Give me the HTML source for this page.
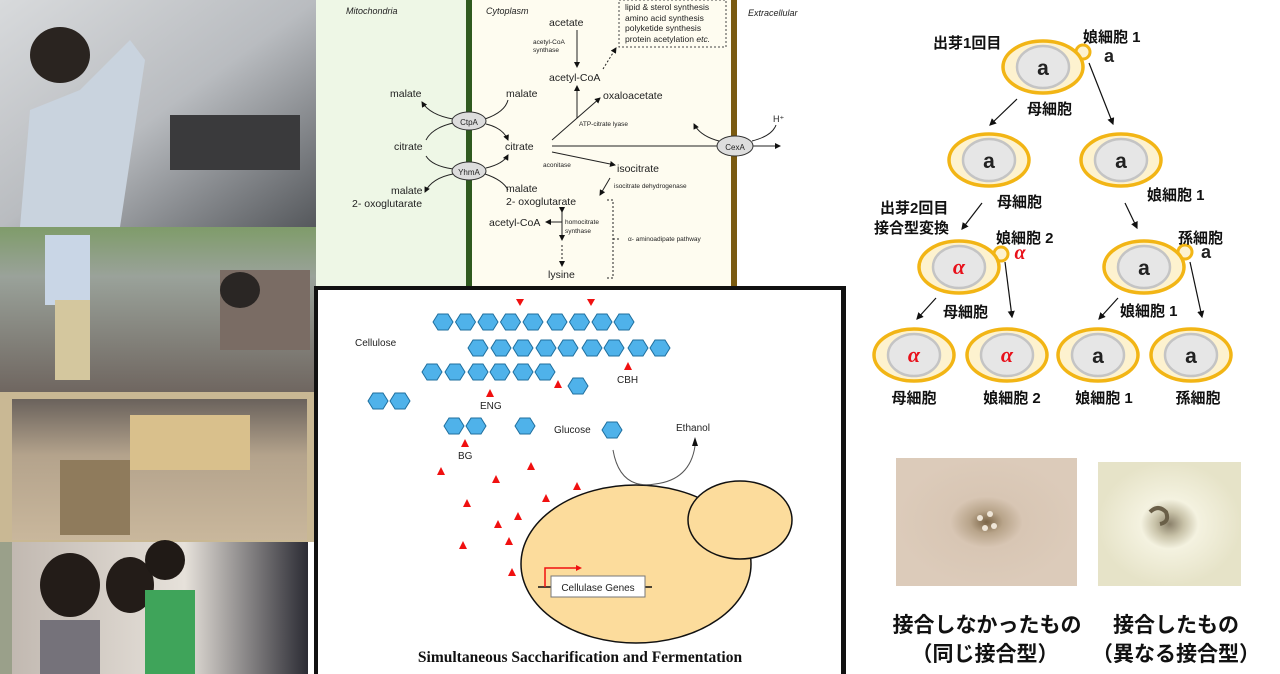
<!DOCTYPE html>
<html><head><meta charset="utf-8"><style>
html,body{margin:0;padding:0;background:#fff;width:1280px;height:674px;overflow:hidden}
svg{display:block}
.s{font-family:"Liberation Sans",sans-serif;fill:#222}
.j{font-family:"Liberation Sans","Noto Sans CJK JP",sans-serif;fill:#111}
</style></head><body>
<svg width="1280" height="674" viewBox="0 0 1280 674" xmlns="http://www.w3.org/2000/svg">
<defs>
<marker id="ar" markerWidth="6" markerHeight="6" refX="5" refY="3" orient="auto"><path d="M0,0L6,3L0,6z" fill="#111"/></marker>
<linearGradient id="p1" x1="0" y1="0" x2="1" y2="1"><stop offset="0" stop-color="#d8dadc"/><stop offset=".5" stop-color="#b9bcc0"/><stop offset="1" stop-color="#55585c"/></linearGradient>
<linearGradient id="p2" x1="0" y1="0" x2="0" y2="1"><stop offset="0" stop-color="#7f9c6a"/><stop offset=".3" stop-color="#9aa29a"/><stop offset="1" stop-color="#6f6660"/></linearGradient>
<linearGradient id="p3" x1="0" y1="0" x2="0" y2="1"><stop offset="0" stop-color="#6a625c"/><stop offset=".4" stop-color="#b4a38c"/><stop offset="1" stop-color="#c9b79c"/></linearGradient>
<linearGradient id="p4" x1="0" y1="0" x2="1" y2="0"><stop offset="0" stop-color="#bfb6ae"/><stop offset=".6" stop-color="#e6e1da"/><stop offset="1" stop-color="#2c2c34"/></linearGradient>
<g id="hx"><polygon points="-10,0 -5,-8 5,-8 10,0 5,8 -5,8" fill="#4fb2ea" stroke="#1f6f9e" stroke-width="1"/></g>
<g id="tr"><polygon points="0,-5 4,3 -4,3" fill="#f01010"/></g>
<g id="cell"><ellipse rx="40" ry="26" fill="#fdf2cf" stroke="#f2b515" stroke-width="3.5"/><ellipse rx="26" ry="21" fill="#e6e6e6" stroke="#c4c4c4" stroke-width="2.5"/></g>
</defs>

<!-- left photos -->
<rect x="0" y="0" width="316" height="227" fill="url(#p1)"/>
<ellipse cx="60" cy="55" rx="30" ry="28" fill="#2a2420"/>
<path d="M20 227 L30 110 L80 90 L130 40 L145 60 L120 227z" fill="#c9d3de"/>
<rect x="170" y="115" width="130" height="55" fill="#3a3a3c"/>
<rect x="0" y="227" width="316" height="165" fill="url(#p2)"/>
<rect x="45" y="235" width="45" height="70" fill="#c9d6e6"/>
<rect x="55" y="300" width="35" height="80" fill="#d4c79e"/>
<rect x="220" y="270" width="90" height="80" fill="#7a6c64"/>
<ellipse cx="240" cy="290" rx="20" ry="18" fill="#2a2624"/>
<rect x="0" y="392" width="316" height="150" fill="#c9b894"/>
<rect x="12" y="399" width="295" height="141" fill="url(#p3)"/>
<rect x="130" y="415" width="120" height="55" fill="#d9c08c"/>
<rect x="60" y="460" width="70" height="75" fill="#8f7b5c"/>
<rect x="0" y="542" width="308" height="132" fill="url(#p4)"/>
<rect x="0" y="542" width="12" height="132" fill="#9aa08a"/>
<ellipse cx="70" cy="585" rx="30" ry="32" fill="#231c18"/>
<rect x="40" y="620" width="60" height="54" fill="#75727a"/>
<ellipse cx="130" cy="585" rx="24" ry="28" fill="#231c18"/>
<rect x="145" y="590" width="50" height="84" fill="#3fa45a"/>
<ellipse cx="165" cy="560" rx="20" ry="20" fill="#201a16"/>

<!-- top middle diagram -->
<rect x="316" y="0" width="150" height="286" fill="#eef7e6"/>
<rect x="466" y="0" width="6" height="286" fill="#2f5a1f"/>
<rect x="472" y="0" width="259" height="286" fill="#fefcf0"/>
<rect x="731" y="0" width="6" height="286" fill="#7a5a10"/>
<rect x="737" y="0" width="109" height="286" fill="#fff"/>
<g class="s" font-size="9" font-style="italic"><text x="346" y="14">Mitochondria</text><text x="486" y="14">Cytoplasm</text><text x="748" y="16">Extracellular</text></g>
<rect x="619" y="0" width="107" height="47" fill="none" stroke="#444" stroke-dasharray="2,2"/>
<g class="s" font-size="8.5"><text x="625" y="10">lipid &amp; sterol synthesis</text><text x="625" y="21">amino acid synthesis</text><text x="625" y="31">polyketide synthesis</text><text x="625" y="42">protein acetylation  <tspan font-style="italic">etc.</tspan></text></g>
<g class="s" font-size="10.5">
<text x="549" y="26">acetate</text><text x="549" y="81">acetyl-CoA</text><text x="603" y="99">oxaloacetate</text>
<text x="390" y="97">malate</text><text x="506" y="97">malate</text>
<text x="394" y="150">citrate</text><text x="505" y="150">citrate</text>
<text x="617" y="172">isocitrate</text>
<text x="391" y="194">malate</text><text x="352" y="207">2- oxoglutarate</text>
<text x="506" y="192">malate</text><text x="506" y="205">2- oxoglutarate</text>
<text x="489" y="226">acetyl-CoA</text><text x="548" y="278">lysine</text>
<text x="773" y="122" font-size="9">H⁺</text>
</g>
<g class="s" font-size="6.5"><text x="533" y="44">acetyl-CoA</text><text x="533" y="52">synthase</text><text x="579" y="126">ATP-citrate lyase</text><text x="543" y="167">aconitase</text><text x="614" y="188">isocitrate dehydrogenase</text><text x="565" y="224">homocitrate</text><text x="565" y="233">synthase</text><text x="628" y="241">α- aminoadipate pathway</text></g>
<g stroke="#222" fill="none" stroke-width="1">
<line x1="577" y1="30" x2="577" y2="67" marker-end="url(#ar)"/>
<line x1="603" y1="69" x2="616" y2="48" stroke-dasharray="2,2" marker-end="url(#ar)"/>
<line x1="577" y1="118" x2="577" y2="86" marker-end="url(#ar)"/>
<line x1="552" y1="140" x2="600" y2="98" marker-end="url(#ar)"/>
<line x1="552" y1="146" x2="718" y2="146"/>
<line x1="753" y1="146" x2="780" y2="146" marker-end="url(#ar)"/>
<path d="M719 141 Q700 136 694 124" marker-end="url(#ar)"/>
<path d="M752 141 Q772 136 776 125"/>
<line x1="552" y1="152" x2="615" y2="165" marker-end="url(#ar)"/>
<line x1="610" y1="178" x2="600" y2="195" marker-end="url(#ar)"/>
<path d="M453 119 Q430 115 422 102" marker-end="url(#ar)"/>
<path d="M485 119 Q505 112 508 100"/>
<path d="M486 124 Q503 128 508 140" marker-end="url(#ar)"/>
<path d="M426 140 Q432 128 453 123"/>
<path d="M426 156 Q432 166 453 169"/>
<path d="M486 168 Q503 164 508 155" marker-end="url(#ar)"/>
<path d="M453 174 Q432 178 425 192" marker-end="url(#ar)"/>
<path d="M485 174 Q503 180 508 190"/>
<line x1="562" y1="212" x2="562" y2="240" marker-end="url(#ar)" marker-start="url(#ar)"/>
<line x1="562" y1="222" x2="546" y2="222" marker-end="url(#ar)"/>
<line x1="562" y1="245" x2="562" y2="266" stroke-dasharray="2,2" marker-end="url(#ar)"/>
<path d="M607 200 H613 V278 H607 M613 239 H620" stroke-dasharray="2,2"/>
</g>
<ellipse cx="469" cy="121" rx="17" ry="9" fill="#ddd" stroke="#333"/><text x="469" y="125" class="s" font-size="8" text-anchor="middle">CtpA</text>
<ellipse cx="469" cy="171" rx="17" ry="9" fill="#ddd" stroke="#333"/><text x="469" y="175" class="s" font-size="8" text-anchor="middle">YhmA</text>
<ellipse cx="735" cy="146" rx="18" ry="10" fill="#ddd" stroke="#333"/><text x="735" y="150" class="s" font-size="8" text-anchor="middle">CexA</text>

<!-- bottom middle panel -->
<rect x="314" y="286" width="532" height="388" fill="#111"/>
<rect x="318" y="290" width="523" height="384" fill="#fff"/>
<g>
<use href="#hx" x="443" y="322"/><use href="#hx" x="465.5" y="322"/><use href="#hx" x="488" y="322"/><use href="#hx" x="510.5" y="322"/><use href="#hx" x="533" y="322"/><use href="#hx" x="557" y="322"/><use href="#hx" x="579.5" y="322"/><use href="#hx" x="602" y="322"/><use href="#hx" x="624" y="322"/>
<use href="#hx" x="478" y="348"/><use href="#hx" x="501" y="348"/><use href="#hx" x="523" y="348"/><use href="#hx" x="546" y="348"/><use href="#hx" x="568" y="348"/><use href="#hx" x="592" y="348"/><use href="#hx" x="614" y="348"/><use href="#hx" x="638" y="348"/><use href="#hx" x="660" y="348"/>
<use href="#hx" x="432" y="372"/><use href="#hx" x="455" y="372"/><use href="#hx" x="478" y="372"/><use href="#hx" x="500" y="372"/><use href="#hx" x="523" y="372"/><use href="#hx" x="545" y="372"/>
<use href="#hx" x="578" y="386"/><use href="#hx" x="378" y="401"/><use href="#hx" x="400" y="401"/>
<use href="#hx" x="454" y="426"/><use href="#hx" x="476" y="426"/><use href="#hx" x="525" y="426"/><use href="#hx" x="612" y="430"/>
</g>
<g>
<polygon points="516,299 524,299 520,306" fill="#f01010"/><polygon points="587,299 595,299 591,306" fill="#f01010"/>
<use href="#tr" x="628" y="367"/><use href="#tr" x="558" y="385"/><use href="#tr" x="490" y="394"/><use href="#tr" x="465" y="444"/>
<use href="#tr" x="441" y="472"/><use href="#tr" x="496" y="480"/><use href="#tr" x="531" y="467"/><use href="#tr" x="467" y="504"/><use href="#tr" x="546" y="499"/><use href="#tr" x="577" y="487"/><use href="#tr" x="498" y="525"/><use href="#tr" x="518" y="517"/><use href="#tr" x="463" y="546"/><use href="#tr" x="509" y="542"/><use href="#tr" x="512" y="573"/>
</g>
<g class="s" font-size="10" fill="#444"><text x="355" y="346">Cellulose</text><text x="617" y="383">CBH</text><text x="480" y="409">ENG</text><text x="458" y="459">BG</text><text x="554" y="433">Glucose</text><text x="676" y="431">Ethanol</text></g>
<ellipse cx="636" cy="564" rx="115" ry="79" fill="#fcdc9c" stroke="#111" stroke-width="1.5"/>
<ellipse cx="740" cy="520" rx="52" ry="39" fill="#fcdc9c" stroke="#111" stroke-width="1.5"/>
<path d="M613 450 Q620 490 655 484 Q690 480 695 446" fill="none" stroke="#555" stroke-width="1"/>
<polygon points="692,446 698,446 695,437" fill="#111"/>
<line x1="538" y1="587" x2="652" y2="587" stroke="#111" stroke-width="1.5"/>
<rect x="551" y="576" width="94" height="21" fill="#fff" stroke="#777"/>
<text x="598" y="591" class="s" font-size="10" fill="#444" text-anchor="middle">Cellulase Genes</text>
<path d="M545 587 V568 H578" stroke="#f01010" stroke-width="1.5" fill="none"/><polygon points="576,565 582,568 576,571" fill="#f01010"/>
<text x="580" y="662" font-family="Liberation Serif,serif" font-weight="bold" font-size="15.5" fill="#111" text-anchor="middle">Simultaneous Saccharification and Fermentation</text>

<!-- right: cell tree -->
<g fill="none" stroke="#111" stroke-width="1.2">
<line x1="1017" y1="99" x2="990" y2="125" marker-end="url(#ar)"/>
<line x1="1089" y1="63" x2="1113" y2="124" marker-end="url(#ar)"/>
<line x1="982" y1="203" x2="962" y2="229" marker-end="url(#ar)"/>
<line x1="1125" y1="203" x2="1137" y2="228" marker-end="url(#ar)"/>
<line x1="936" y1="298" x2="917" y2="319" marker-end="url(#ar)"/>
<line x1="1005" y1="262" x2="1012" y2="317" marker-end="url(#ar)"/>
<line x1="1118" y1="298" x2="1099" y2="319" marker-end="url(#ar)"/>
<line x1="1190" y1="262" x2="1202" y2="317" marker-end="url(#ar)"/>
</g>
<circle cx="1083" cy="52" r="7" fill="#fdf2cf" stroke="#f2b515" stroke-width="3"/>
<circle cx="1001" cy="254" r="7" fill="#fdf2cf" stroke="#f2b515" stroke-width="3"/>
<circle cx="1185" cy="252" r="7" fill="#fdf2cf" stroke="#f2b515" stroke-width="3"/>
<use href="#cell" x="1043" y="67"/><use href="#cell" x="989" y="160"/><use href="#cell" x="1121" y="160"/>
<use href="#cell" x="959" y="267"/><use href="#cell" x="1144" y="267"/>
<use href="#cell" x="914" y="355"/><use href="#cell" x="1007" y="355"/><use href="#cell" x="1098" y="355"/><use href="#cell" x="1191" y="355"/>
<g class="s" font-weight="bold" font-size="21" fill="#111" text-anchor="middle">
<text x="1043" y="75">a</text><text x="989" y="168">a</text><text x="1121" y="168">a</text><text x="1144" y="275">a</text><text x="1098" y="363">a</text><text x="1191" y="363">a</text>
<text x="1109" y="62" font-size="18">a</text><text x="1206" y="258" font-size="18">a</text>
</g>
<g font-family="Liberation Serif,serif" font-style="italic" font-weight="bold" font-size="22" fill="#e8101a" text-anchor="middle">
<text x="959" y="274">α</text><text x="914" y="362">α</text><text x="1007" y="362">α</text><text x="1020" y="259" font-size="20">α</text>
</g>
<g class="j" font-size="15" font-weight="bold">
<text x="933" y="48">出芽1回目</text><text x="1083" y="42">娘細胞 1</text>
<text x="1027" y="114">母細胞</text>
<text x="997" y="207">母細胞</text><text x="1147" y="200">娘細胞 1</text>
<text x="880" y="213">出芽2回目</text><text x="874" y="233">接合型変換</text>
<text x="996" y="243">娘細胞 2</text><text x="1178" y="243">孫細胞</text>
<text x="943" y="317">母細胞</text><text x="1120" y="316">娘細胞 1</text>
<text x="914" y="403" text-anchor="middle">母細胞</text><text x="1012" y="403" text-anchor="middle">娘細胞 2</text><text x="1104" y="403" text-anchor="middle">娘細胞 1</text><text x="1198" y="403" text-anchor="middle">孫細胞</text>
</g>

<!-- right bottom photos -->
<defs>
<radialGradient id="c1" cx=".5" cy=".5" r=".5"><stop offset="0" stop-color="#7a6446"/><stop offset=".18" stop-color="#b8a48a"/><stop offset=".4" stop-color="#d8c6b4"/><stop offset="1" stop-color="#dccbba"/></radialGradient>
<radialGradient id="c2" cx=".5" cy=".5" r=".5"><stop offset="0" stop-color="#8a806a"/><stop offset=".2" stop-color="#c8c2a8"/><stop offset=".4" stop-color="#f4f2e0"/><stop offset="1" stop-color="#e6e3c8"/></radialGradient>
</defs>
<rect x="896" y="458" width="181" height="128" fill="url(#c1)"/>
<g fill="#efe6d8"><circle cx="980" cy="518" r="3"/><circle cx="990" cy="514" r="3"/><circle cx="985" cy="528" r="3"/><circle cx="994" cy="526" r="3"/></g>
<rect x="1098" y="462" width="143" height="124" fill="url(#c2)"/>
<path d="M1150 512 q8 -8 16 0 q4 10 -6 12" fill="none" stroke="#6a5f48" stroke-width="4"/>
<g class="j" font-size="21" font-weight="bold" text-anchor="middle">
<text x="987" y="632">接合しなかったもの</text><text x="1176" y="632">接合したもの</text>
<text x="985" y="661">（同じ接合型）</text><text x="1176" y="661">（異なる接合型）</text>
</g>
</svg>
</body></html>
